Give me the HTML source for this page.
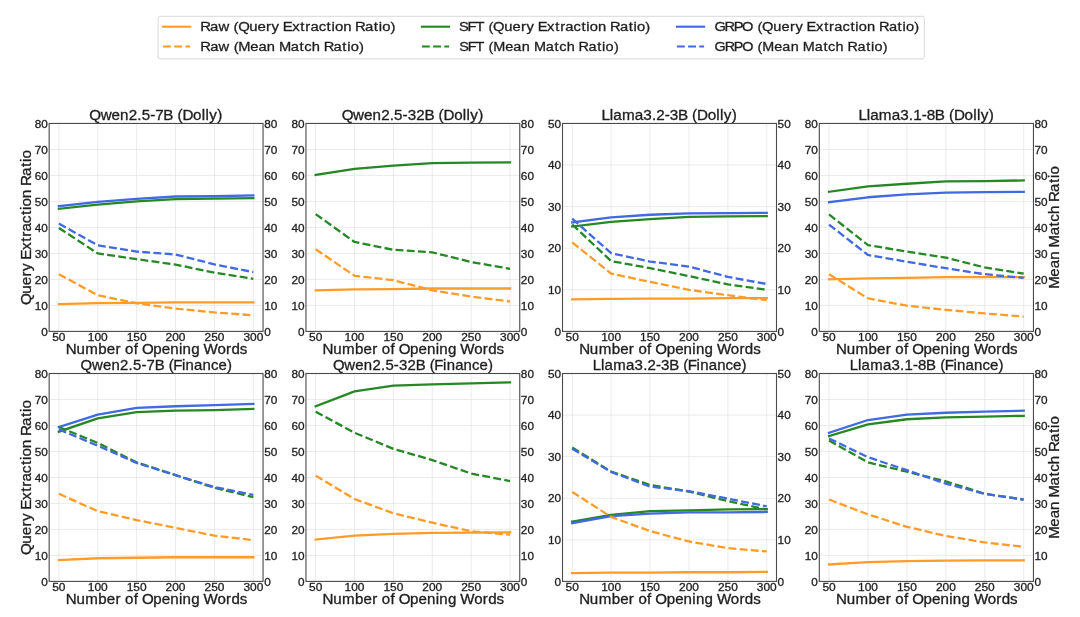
<!DOCTYPE html>
<html><head><meta charset="utf-8"><title>chart</title>
<style>html,body{margin:0;padding:0;background:#fff;}svg{display:block;will-change:transform;}text{font-family:"Liberation Sans",sans-serif;fill:#1e1e1e;stroke:#1e1e1e;stroke-width:0.3px;}</style></head><body>
<svg width="1080" height="617" viewBox="0 0 1080 617">
<rect x="0" y="0" width="1080" height="617" fill="#ffffff"/>
<rect x="158.1" y="16.3" width="766.2" height="42.6" rx="2.2" ry="2.2" fill="#fff" stroke="#d4d4d4" stroke-width="0.9"/>
<line x1="163.0" y1="26.7" x2="190.2" y2="26.7" stroke="#FF9C28" stroke-width="2.1" stroke-linecap="square"/>
<line x1="163.0" y1="46.5" x2="190.2" y2="46.5" stroke="#FF9C28" stroke-width="2.1" stroke-dasharray="7.9 3.3"/>
<text transform="translate(200.90 31.30) scale(1.1056 1)" x="-0.68 8.33 15.84 25.69 29.59 33.69 43.76 51.29 58.99 63.92 70.90 74.01 82.52 89.95 94.43 99.10 106.49 113.67 118.09 121.20 128.72 136.34 139.45 148.46 156.40 160.82 163.93 171.48" y="0" font-size="13.5">Raw (Query Extraction Ratio)</text>
<text transform="translate(200.90 51.30) scale(1.0891 1)" x="-0.62 8.52 16.17 26.12 30.09 34.39 45.32 52.85 60.49 68.20 71.69 82.60 90.64 94.91 101.78 109.49 112.70 121.84 129.87 134.35 137.55 145.20" y="0" font-size="13.5">Raw (Mean Match Ratio)</text>
<line x1="421.9" y1="26.7" x2="449.1" y2="26.7" stroke="#258825" stroke-width="2.1" stroke-linecap="square"/>
<line x1="421.9" y1="46.5" x2="449.1" y2="46.5" stroke="#258825" stroke-width="2.1" stroke-dasharray="7.9 3.3"/>
<text transform="translate(459.80 31.30) scale(1.0923 1)" x="-0.63 7.14 14.39 22.31 26.26 30.45 40.62 48.25 56.02 61.02 68.08 71.25 79.85 87.36 91.89 96.64 104.12 111.37 115.84 119.02 126.63 134.32 137.50 146.61 154.62 159.09 162.27 169.90" y="0" font-size="13.5">SFT (Query Extraction Ratio)</text>
<text transform="translate(459.80 51.30) scale(1.0732 1)" x="-0.55 7.35 14.73 22.75 26.78 31.20 42.26 49.90 57.66 65.45 69.05 80.10 88.22 92.58 99.57 107.36 110.66 119.92 128.05 132.59 135.87 143.61" y="0" font-size="13.5">SFT (Mean Match Ratio)</text>
<line x1="676.9" y1="26.7" x2="704.1" y2="26.7" stroke="#4169E1" stroke-width="2.1" stroke-linecap="square"/>
<line x1="676.9" y1="46.5" x2="704.1" y2="46.5" stroke="#4169E1" stroke-width="2.1" stroke-dasharray="7.9 3.3"/>
<text transform="translate(714.90 31.30) scale(1.0842 1)" x="-0.48 8.93 17.29 25.09 35.27 39.25 43.49 53.72 61.41 69.23 74.27 81.37 84.58 93.24 100.79 105.36 110.15 117.68 124.97 129.47 132.69 140.35 148.08 151.31 160.48 168.54 173.04 176.25 183.92" y="0" font-size="13.5">GRPO (Query Extraction Ratio)</text>
<text transform="translate(714.90 51.30) scale(1.0655 1)" x="-0.40 9.18 17.68 25.64 35.94 40.00 44.47 55.60 63.29 71.10 78.93 82.58 93.69 101.86 106.26 113.30 121.14 124.48 133.79 141.96 146.53 149.85 157.63" y="0" font-size="13.5">GRPO (Mean Match Ratio)</text>
<g>
<path d="M58.87 123.45V331.40M97.76 123.45V331.40M136.65 123.45V331.40M175.55 123.45V331.40M214.44 123.45V331.40M253.33 123.45V331.40M49.15 305.41H263.05M49.15 279.41H263.05M49.15 253.42H263.05M49.15 227.42H263.05M49.15 201.43H263.05M49.15 175.44H263.05M49.15 149.44H263.05" stroke="#dedede" stroke-width="0.6" fill="none"/>
<polyline points="58.87,304.11 97.76,303.07 136.65,302.81 175.55,302.29 214.44,302.29 253.33,302.29" fill="none" stroke="#FF9C28" stroke-width="2.3" stroke-linecap="square" stroke-linejoin="round"/>
<polyline points="58.87,208.84 97.76,204.55 136.65,201.43 175.55,199.09 214.44,198.70 253.33,198.18" fill="none" stroke="#258825" stroke-width="2.3" stroke-linecap="square" stroke-linejoin="round"/>
<polyline points="58.87,206.11 97.76,201.95 136.65,198.83 175.55,196.49 214.44,196.23 253.33,195.45" fill="none" stroke="#4169E1" stroke-width="2.3" stroke-linecap="square" stroke-linejoin="round"/>
<polyline points="58.87,274.21 97.76,295.27 136.65,303.33 175.55,308.53 214.44,312.42 253.33,315.28" fill="none" stroke="#FF9C28" stroke-width="2.3" stroke-dasharray="7.9 3.3" stroke-linejoin="round"/>
<polyline points="58.87,227.94 97.76,253.42 136.65,259.14 175.55,264.60 214.44,272.65 253.33,278.89" fill="none" stroke="#258825" stroke-width="2.3" stroke-dasharray="7.9 3.3" stroke-linejoin="round"/>
<polyline points="58.87,223.53 97.76,245.36 136.65,251.60 175.55,254.46 214.44,264.34 253.33,272.13" fill="none" stroke="#4169E1" stroke-width="2.3" stroke-dasharray="7.9 3.3" stroke-linejoin="round"/>
<rect x="49.15" y="123.45" width="213.90" height="207.95" fill="none" stroke="#4a4a4a" stroke-width="1.1"/>
<text transform="translate(47.75 335.65) scale(1.0451 1)" x="-6.28" y="0" font-size="11.3">0</text>
<text transform="translate(264.15 335.65) scale(1.0451 1)" x="-0.00" y="0" font-size="11.3">0</text>
<text transform="translate(47.75 309.66) scale(1.0451 1)" x="-12.57 -6.28" y="0" font-size="11.3">10</text>
<text transform="translate(264.15 309.66) scale(1.0451 1)" x="-0.00 6.28" y="0" font-size="11.3">10</text>
<text transform="translate(47.75 283.66) scale(1.0451 1)" x="-12.57 -6.28" y="0" font-size="11.3">20</text>
<text transform="translate(264.15 283.66) scale(1.0451 1)" x="-0.00 6.28" y="0" font-size="11.3">20</text>
<text transform="translate(47.75 257.67) scale(1.0451 1)" x="-12.57 -6.28" y="0" font-size="11.3">30</text>
<text transform="translate(264.15 257.67) scale(1.0451 1)" x="-0.00 6.28" y="0" font-size="11.3">30</text>
<text transform="translate(47.75 231.67) scale(1.0451 1)" x="-12.57 -6.28" y="0" font-size="11.3">40</text>
<text transform="translate(264.15 231.67) scale(1.0451 1)" x="-0.00 6.28" y="0" font-size="11.3">40</text>
<text transform="translate(47.75 205.68) scale(1.0451 1)" x="-12.57 -6.28" y="0" font-size="11.3">50</text>
<text transform="translate(264.15 205.68) scale(1.0451 1)" x="-0.00 6.28" y="0" font-size="11.3">50</text>
<text transform="translate(47.75 179.69) scale(1.0451 1)" x="-12.57 -6.28" y="0" font-size="11.3">60</text>
<text transform="translate(264.15 179.69) scale(1.0451 1)" x="-0.00 6.28" y="0" font-size="11.3">60</text>
<text transform="translate(47.75 153.69) scale(1.0451 1)" x="-12.57 -6.28" y="0" font-size="11.3">70</text>
<text transform="translate(264.15 153.69) scale(1.0451 1)" x="-0.00 6.28" y="0" font-size="11.3">70</text>
<text transform="translate(47.75 127.70) scale(1.0451 1)" x="-12.57 -6.28" y="0" font-size="11.3">80</text>
<text transform="translate(264.15 127.70) scale(1.0451 1)" x="-0.00 6.28" y="0" font-size="11.3">80</text>
<text transform="translate(58.87 340.70) scale(1.0563 1)" x="-6.28 0.00" y="0" font-size="11.3">50</text>
<text transform="translate(97.76 340.70) scale(1.0563 1)" x="-9.43 -3.14 3.14" y="0" font-size="11.3">100</text>
<text transform="translate(136.65 340.70) scale(1.0563 1)" x="-9.43 -3.14 3.14" y="0" font-size="11.3">150</text>
<text transform="translate(175.55 340.70) scale(1.0563 1)" x="-9.43 -3.14 3.14" y="0" font-size="11.3">200</text>
<text transform="translate(214.44 340.70) scale(1.0563 1)" x="-9.43 -3.14 3.14" y="0" font-size="11.3">250</text>
<text transform="translate(253.33 340.70) scale(1.0563 1)" x="-9.43 -3.14 3.14" y="0" font-size="11.3">300</text>
<text transform="translate(156.10 354.30) scale(1.0957 1)" x="-82.42 -72.71 -64.65 -52.77 -45.03 -37.13 -32.23 -28.39 -20.49 -16.34 -12.94 -2.60 5.14 12.88 20.84 24.18 32.04 39.87 43.37 55.96 63.84 68.78 76.33" y="0" font-size="13.8">Number of Opening Words</text>
<text transform="translate(156.10 120.35) scale(1.1002 1)" x="-60.71 -50.42 -40.43 -32.72 -24.89 -17.08 -13.11 -5.42 -0.80 6.59 15.47 19.46 23.94 33.61 41.41 44.84 48.29 55.50" y="0" font-size="13.8">Qwen2.5-7B (Dolly)</text>
<text transform="translate(31.20 227.42) rotate(-90) scale(1.1100 1)" x="-69.96 -59.74 -52.10 -44.28 -39.30 -32.20 -29.08 -20.44 -12.89 -8.36 -3.63 3.86 11.16 15.64 18.78 26.40 34.14 37.27 46.41 54.48 58.96 62.10" y="0" font-size="13.8">Query Extraction Ratio</text>
</g>
<g>
<path d="M315.67 123.45V331.40M354.54 123.45V331.40M393.41 123.45V331.40M432.29 123.45V331.40M471.16 123.45V331.40M510.03 123.45V331.40M305.95 305.41H519.75M305.95 279.41H519.75M305.95 253.42H519.75M305.95 227.42H519.75M305.95 201.43H519.75M305.95 175.44H519.75M305.95 149.44H519.75" stroke="#dedede" stroke-width="0.6" fill="none"/>
<polyline points="315.67,290.33 354.54,289.29 393.41,289.03 432.29,288.51 471.16,288.51 510.03,288.51" fill="none" stroke="#FF9C28" stroke-width="2.3" stroke-linecap="square" stroke-linejoin="round"/>
<polyline points="315.67,174.92 354.54,168.94 393.41,165.56 432.29,163.22 471.16,162.70 510.03,162.44" fill="none" stroke="#258825" stroke-width="2.3" stroke-linecap="square" stroke-linejoin="round"/>
<polyline points="315.67,249.26 354.54,275.77 393.41,280.19 432.29,290.33 471.16,296.57 510.03,301.51" fill="none" stroke="#FF9C28" stroke-width="2.3" stroke-dasharray="7.9 3.3" stroke-linejoin="round"/>
<polyline points="315.67,214.17 354.54,241.98 393.41,249.78 432.29,252.38 471.16,262.00 510.03,268.76" fill="none" stroke="#258825" stroke-width="2.3" stroke-dasharray="7.9 3.3" stroke-linejoin="round"/>
<rect x="305.95" y="123.45" width="213.80" height="207.95" fill="none" stroke="#4a4a4a" stroke-width="1.1"/>
<text transform="translate(304.55 335.65) scale(1.0451 1)" x="-6.28" y="0" font-size="11.3">0</text>
<text transform="translate(520.85 335.65) scale(1.0451 1)" x="-0.00" y="0" font-size="11.3">0</text>
<text transform="translate(304.55 309.66) scale(1.0451 1)" x="-12.57 -6.28" y="0" font-size="11.3">10</text>
<text transform="translate(520.85 309.66) scale(1.0451 1)" x="-0.00 6.28" y="0" font-size="11.3">10</text>
<text transform="translate(304.55 283.66) scale(1.0451 1)" x="-12.57 -6.28" y="0" font-size="11.3">20</text>
<text transform="translate(520.85 283.66) scale(1.0451 1)" x="-0.00 6.28" y="0" font-size="11.3">20</text>
<text transform="translate(304.55 257.67) scale(1.0451 1)" x="-12.57 -6.28" y="0" font-size="11.3">30</text>
<text transform="translate(520.85 257.67) scale(1.0451 1)" x="-0.00 6.28" y="0" font-size="11.3">30</text>
<text transform="translate(304.55 231.67) scale(1.0451 1)" x="-12.57 -6.28" y="0" font-size="11.3">40</text>
<text transform="translate(520.85 231.67) scale(1.0451 1)" x="-0.00 6.28" y="0" font-size="11.3">40</text>
<text transform="translate(304.55 205.68) scale(1.0451 1)" x="-12.57 -6.28" y="0" font-size="11.3">50</text>
<text transform="translate(520.85 205.68) scale(1.0451 1)" x="-0.00 6.28" y="0" font-size="11.3">50</text>
<text transform="translate(304.55 179.69) scale(1.0451 1)" x="-12.57 -6.28" y="0" font-size="11.3">60</text>
<text transform="translate(520.85 179.69) scale(1.0451 1)" x="-0.00 6.28" y="0" font-size="11.3">60</text>
<text transform="translate(304.55 153.69) scale(1.0451 1)" x="-12.57 -6.28" y="0" font-size="11.3">70</text>
<text transform="translate(520.85 153.69) scale(1.0451 1)" x="-0.00 6.28" y="0" font-size="11.3">70</text>
<text transform="translate(304.55 127.70) scale(1.0451 1)" x="-12.57 -6.28" y="0" font-size="11.3">80</text>
<text transform="translate(520.85 127.70) scale(1.0451 1)" x="-0.00 6.28" y="0" font-size="11.3">80</text>
<text transform="translate(315.67 340.70) scale(1.0563 1)" x="-6.28 0.00" y="0" font-size="11.3">50</text>
<text transform="translate(354.54 340.70) scale(1.0563 1)" x="-9.43 -3.14 3.14" y="0" font-size="11.3">100</text>
<text transform="translate(393.41 340.70) scale(1.0563 1)" x="-9.43 -3.14 3.14" y="0" font-size="11.3">150</text>
<text transform="translate(432.29 340.70) scale(1.0563 1)" x="-9.43 -3.14 3.14" y="0" font-size="11.3">200</text>
<text transform="translate(471.16 340.70) scale(1.0563 1)" x="-9.43 -3.14 3.14" y="0" font-size="11.3">250</text>
<text transform="translate(510.03 340.70) scale(1.0563 1)" x="-9.43 -3.14 3.14" y="0" font-size="11.3">300</text>
<text transform="translate(412.85 354.30) scale(1.0957 1)" x="-82.42 -72.71 -64.65 -52.77 -45.03 -37.13 -32.23 -28.39 -20.49 -16.34 -12.94 -2.60 5.14 12.88 20.84 24.18 32.04 39.87 43.37 55.96 63.84 68.78 76.33" y="0" font-size="13.8">Number of Opening Words</text>
<text transform="translate(412.85 120.35) scale(1.1017 1)" x="-64.56 -54.28 -44.30 -36.61 -28.78 -20.98 -17.02 -9.33 -4.73 3.11 10.50 19.37 23.35 27.82 37.48 45.27 48.69 52.13 59.34" y="0" font-size="13.8">Qwen2.5-32B (Dolly)</text>
</g>
<g>
<path d="M572.23 123.45V331.40M611.14 123.45V331.40M650.05 123.45V331.40M688.95 123.45V331.40M727.86 123.45V331.40M766.77 123.45V331.40M562.50 289.81H776.50M562.50 248.22H776.50M562.50 206.63H776.50M562.50 165.04H776.50" stroke="#dedede" stroke-width="0.6" fill="none"/>
<polyline points="572.23,299.38 611.14,298.96 650.05,298.54 688.95,298.54 727.86,298.13 766.77,298.13" fill="none" stroke="#FF9C28" stroke-width="2.3" stroke-linecap="square" stroke-linejoin="round"/>
<polyline points="572.23,226.59 611.14,221.81 650.05,219.11 688.95,216.82 727.86,216.40 766.77,216.20" fill="none" stroke="#258825" stroke-width="2.3" stroke-linecap="square" stroke-linejoin="round"/>
<polyline points="572.23,222.43 611.14,217.44 650.05,214.74 688.95,213.28 727.86,213.08 766.77,212.87" fill="none" stroke="#4169E1" stroke-width="2.3" stroke-linecap="square" stroke-linejoin="round"/>
<polyline points="572.23,242.40 611.14,273.59 650.05,281.91 688.95,289.81 727.86,295.22 766.77,300.21" fill="none" stroke="#FF9C28" stroke-width="2.3" stroke-dasharray="7.9 3.3" stroke-linejoin="round"/>
<polyline points="572.23,224.51 611.14,261.11 650.05,268.18 688.95,276.09 727.86,284.40 766.77,289.81" fill="none" stroke="#258825" stroke-width="2.3" stroke-dasharray="7.9 3.3" stroke-linejoin="round"/>
<polyline points="572.23,218.69 611.14,253.21 650.05,261.53 688.95,266.52 727.86,276.92 766.77,283.99" fill="none" stroke="#4169E1" stroke-width="2.3" stroke-dasharray="7.9 3.3" stroke-linejoin="round"/>
<rect x="562.50" y="123.45" width="214.00" height="207.95" fill="none" stroke="#4a4a4a" stroke-width="1.1"/>
<text transform="translate(561.10 335.65) scale(1.0451 1)" x="-6.28" y="0" font-size="11.3">0</text>
<text transform="translate(777.60 335.65) scale(1.0451 1)" x="-0.00" y="0" font-size="11.3">0</text>
<text transform="translate(561.10 294.06) scale(1.0451 1)" x="-12.57 -6.28" y="0" font-size="11.3">10</text>
<text transform="translate(777.60 294.06) scale(1.0451 1)" x="-0.00 6.28" y="0" font-size="11.3">10</text>
<text transform="translate(561.10 252.47) scale(1.0451 1)" x="-12.57 -6.28" y="0" font-size="11.3">20</text>
<text transform="translate(777.60 252.47) scale(1.0451 1)" x="-0.00 6.28" y="0" font-size="11.3">20</text>
<text transform="translate(561.10 210.88) scale(1.0451 1)" x="-12.57 -6.28" y="0" font-size="11.3">30</text>
<text transform="translate(777.60 210.88) scale(1.0451 1)" x="-0.00 6.28" y="0" font-size="11.3">30</text>
<text transform="translate(561.10 169.29) scale(1.0451 1)" x="-12.57 -6.28" y="0" font-size="11.3">40</text>
<text transform="translate(777.60 169.29) scale(1.0451 1)" x="-0.00 6.28" y="0" font-size="11.3">40</text>
<text transform="translate(561.10 127.70) scale(1.0451 1)" x="-12.57 -6.28" y="0" font-size="11.3">50</text>
<text transform="translate(777.60 127.70) scale(1.0451 1)" x="-0.00 6.28" y="0" font-size="11.3">50</text>
<text transform="translate(572.23 340.70) scale(1.0563 1)" x="-6.28 0.00" y="0" font-size="11.3">50</text>
<text transform="translate(611.14 340.70) scale(1.0563 1)" x="-9.43 -3.14 3.14" y="0" font-size="11.3">100</text>
<text transform="translate(650.05 340.70) scale(1.0563 1)" x="-9.43 -3.14 3.14" y="0" font-size="11.3">150</text>
<text transform="translate(688.95 340.70) scale(1.0563 1)" x="-9.43 -3.14 3.14" y="0" font-size="11.3">200</text>
<text transform="translate(727.86 340.70) scale(1.0563 1)" x="-9.43 -3.14 3.14" y="0" font-size="11.3">250</text>
<text transform="translate(766.77 340.70) scale(1.0563 1)" x="-9.43 -3.14 3.14" y="0" font-size="11.3">300</text>
<text transform="translate(669.50 354.30) scale(1.0957 1)" x="-82.42 -72.71 -64.65 -52.77 -45.03 -37.13 -32.23 -28.39 -20.49 -16.34 -12.94 -2.60 5.14 12.88 20.84 24.18 32.04 39.87 43.37 55.96 63.84 68.78 76.33" y="0" font-size="13.8">Number of Opening Words</text>
<text transform="translate(669.50 120.35) scale(1.1065 1)" x="-61.39 -53.96 -50.80 -42.97 -31.32 -23.66 -15.88 -11.95 -4.29 0.29 7.64 16.48 20.45 24.88 34.51 42.27 45.68 49.10 56.28" y="0" font-size="13.8">Llama3.2-3B (Dolly)</text>
</g>
<g>
<path d="M829.03 123.45V331.40M867.97 123.45V331.40M906.91 123.45V331.40M945.84 123.45V331.40M984.78 123.45V331.40M1023.72 123.45V331.40M819.30 305.41H1033.45M819.30 279.41H1033.45M819.30 253.42H1033.45M819.30 227.42H1033.45M819.30 201.43H1033.45M819.30 175.44H1033.45M819.30 149.44H1033.45" stroke="#dedede" stroke-width="0.6" fill="none"/>
<polyline points="829.03,279.41 867.97,278.37 906.91,277.85 945.84,277.07 984.78,277.07 1023.72,277.07" fill="none" stroke="#FF9C28" stroke-width="2.3" stroke-linecap="square" stroke-linejoin="round"/>
<polyline points="829.03,191.81 867.97,186.35 906.91,183.76 945.84,181.42 984.78,181.16 1023.72,180.38" fill="none" stroke="#258825" stroke-width="2.3" stroke-linecap="square" stroke-linejoin="round"/>
<polyline points="829.03,202.21 867.97,197.27 906.91,194.41 945.84,192.59 984.78,192.07 1023.72,191.81" fill="none" stroke="#4169E1" stroke-width="2.3" stroke-linecap="square" stroke-linejoin="round"/>
<polyline points="829.03,274.21 867.97,298.39 906.91,305.67 945.84,309.83 984.78,313.46 1023.72,316.58" fill="none" stroke="#FF9C28" stroke-width="2.3" stroke-dasharray="7.9 3.3" stroke-linejoin="round"/>
<polyline points="829.03,214.43 867.97,245.10 906.91,251.60 945.84,257.58 984.78,267.46 1023.72,273.69" fill="none" stroke="#258825" stroke-width="2.3" stroke-dasharray="7.9 3.3" stroke-linejoin="round"/>
<polyline points="829.03,224.57 867.97,254.98 906.91,261.74 945.84,268.24 984.78,274.21 1023.72,277.85" fill="none" stroke="#4169E1" stroke-width="2.3" stroke-dasharray="7.9 3.3" stroke-linejoin="round"/>
<rect x="819.30" y="123.45" width="214.15" height="207.95" fill="none" stroke="#4a4a4a" stroke-width="1.1"/>
<text transform="translate(817.90 335.65) scale(1.0451 1)" x="-6.28" y="0" font-size="11.3">0</text>
<text transform="translate(1034.55 335.65) scale(1.0451 1)" x="-0.00" y="0" font-size="11.3">0</text>
<text transform="translate(817.90 309.66) scale(1.0451 1)" x="-12.57 -6.28" y="0" font-size="11.3">10</text>
<text transform="translate(1034.55 309.66) scale(1.0451 1)" x="-0.00 6.28" y="0" font-size="11.3">10</text>
<text transform="translate(817.90 283.66) scale(1.0451 1)" x="-12.57 -6.28" y="0" font-size="11.3">20</text>
<text transform="translate(1034.55 283.66) scale(1.0451 1)" x="-0.00 6.28" y="0" font-size="11.3">20</text>
<text transform="translate(817.90 257.67) scale(1.0451 1)" x="-12.57 -6.28" y="0" font-size="11.3">30</text>
<text transform="translate(1034.55 257.67) scale(1.0451 1)" x="-0.00 6.28" y="0" font-size="11.3">30</text>
<text transform="translate(817.90 231.67) scale(1.0451 1)" x="-12.57 -6.28" y="0" font-size="11.3">40</text>
<text transform="translate(1034.55 231.67) scale(1.0451 1)" x="-0.00 6.28" y="0" font-size="11.3">40</text>
<text transform="translate(817.90 205.68) scale(1.0451 1)" x="-12.57 -6.28" y="0" font-size="11.3">50</text>
<text transform="translate(1034.55 205.68) scale(1.0451 1)" x="-0.00 6.28" y="0" font-size="11.3">50</text>
<text transform="translate(817.90 179.69) scale(1.0451 1)" x="-12.57 -6.28" y="0" font-size="11.3">60</text>
<text transform="translate(1034.55 179.69) scale(1.0451 1)" x="-0.00 6.28" y="0" font-size="11.3">60</text>
<text transform="translate(817.90 153.69) scale(1.0451 1)" x="-12.57 -6.28" y="0" font-size="11.3">70</text>
<text transform="translate(1034.55 153.69) scale(1.0451 1)" x="-0.00 6.28" y="0" font-size="11.3">70</text>
<text transform="translate(817.90 127.70) scale(1.0451 1)" x="-12.57 -6.28" y="0" font-size="11.3">80</text>
<text transform="translate(1034.55 127.70) scale(1.0451 1)" x="-0.00 6.28" y="0" font-size="11.3">80</text>
<text transform="translate(829.03 340.70) scale(1.0563 1)" x="-6.28 0.00" y="0" font-size="11.3">50</text>
<text transform="translate(867.97 340.70) scale(1.0563 1)" x="-9.43 -3.14 3.14" y="0" font-size="11.3">100</text>
<text transform="translate(906.91 340.70) scale(1.0563 1)" x="-9.43 -3.14 3.14" y="0" font-size="11.3">150</text>
<text transform="translate(945.84 340.70) scale(1.0563 1)" x="-9.43 -3.14 3.14" y="0" font-size="11.3">200</text>
<text transform="translate(984.78 340.70) scale(1.0563 1)" x="-9.43 -3.14 3.14" y="0" font-size="11.3">250</text>
<text transform="translate(1023.72 340.70) scale(1.0563 1)" x="-9.43 -3.14 3.14" y="0" font-size="11.3">300</text>
<text transform="translate(926.38 354.30) scale(1.0957 1)" x="-82.42 -72.71 -64.65 -52.77 -45.03 -37.13 -32.23 -28.39 -20.49 -16.34 -12.94 -2.60 5.14 12.88 20.84 24.18 32.04 39.87 43.37 55.96 63.84 68.78 76.33" y="0" font-size="13.8">Number of Opening Words</text>
<text transform="translate(926.38 120.35) scale(1.1065 1)" x="-61.39 -53.96 -50.80 -42.97 -31.32 -23.66 -15.88 -11.95 -4.29 0.29 7.64 16.48 20.45 24.88 34.51 42.27 45.68 49.10 56.28" y="0" font-size="13.8">Llama3.1-8B (Dolly)</text>
<text transform="translate(1059.30 227.42) rotate(-90) scale(1.0889 1)" x="-56.36 -45.23 -37.57 -29.80 -21.95 -18.41 -7.30 0.88 5.22 12.22 20.07 23.32 32.62 40.81 45.37 48.61" y="0" font-size="13.8">Mean Match Ratio</text>
</g>
<g>
<path d="M58.87 373.50V581.40M97.76 373.50V581.40M136.65 373.50V581.40M175.55 373.50V581.40M214.44 373.50V581.40M253.33 373.50V581.40M49.15 555.41H263.05M49.15 529.42H263.05M49.15 503.44H263.05M49.15 477.45H263.05M49.15 451.46H263.05M49.15 425.48H263.05M49.15 399.49H263.05" stroke="#dedede" stroke-width="0.6" fill="none"/>
<polyline points="58.87,560.09 97.76,558.27 136.65,557.75 175.55,557.23 214.44,557.23 253.33,557.23" fill="none" stroke="#FF9C28" stroke-width="2.3" stroke-linecap="square" stroke-linejoin="round"/>
<polyline points="58.87,431.71 97.76,418.46 136.65,412.22 175.55,410.66 214.44,410.14 253.33,408.84" fill="none" stroke="#258825" stroke-width="2.3" stroke-linecap="square" stroke-linejoin="round"/>
<polyline points="58.87,427.03 97.76,414.56 136.65,407.80 175.55,406.24 214.44,405.20 253.33,403.91" fill="none" stroke="#4169E1" stroke-width="2.3" stroke-linecap="square" stroke-linejoin="round"/>
<polyline points="58.87,493.82 97.76,511.23 136.65,520.07 175.55,527.87 214.44,535.66 253.33,540.08" fill="none" stroke="#FF9C28" stroke-width="2.3" stroke-dasharray="7.9 3.3" stroke-linejoin="round"/>
<polyline points="58.87,427.03 97.76,442.89 136.65,462.38 175.55,475.11 214.44,487.84 253.33,497.20" fill="none" stroke="#258825" stroke-width="2.3" stroke-dasharray="7.9 3.3" stroke-linejoin="round"/>
<polyline points="58.87,429.37 97.76,445.75 136.65,462.90 175.55,475.11 214.44,487.07 253.33,494.86" fill="none" stroke="#4169E1" stroke-width="2.3" stroke-dasharray="7.9 3.3" stroke-linejoin="round"/>
<rect x="49.15" y="373.50" width="213.90" height="207.90" fill="none" stroke="#4a4a4a" stroke-width="1.1"/>
<text transform="translate(47.75 585.65) scale(1.0451 1)" x="-6.28" y="0" font-size="11.3">0</text>
<text transform="translate(264.15 585.65) scale(1.0451 1)" x="-0.00" y="0" font-size="11.3">0</text>
<text transform="translate(47.75 559.66) scale(1.0451 1)" x="-12.57 -6.28" y="0" font-size="11.3">10</text>
<text transform="translate(264.15 559.66) scale(1.0451 1)" x="-0.00 6.28" y="0" font-size="11.3">10</text>
<text transform="translate(47.75 533.67) scale(1.0451 1)" x="-12.57 -6.28" y="0" font-size="11.3">20</text>
<text transform="translate(264.15 533.67) scale(1.0451 1)" x="-0.00 6.28" y="0" font-size="11.3">20</text>
<text transform="translate(47.75 507.69) scale(1.0451 1)" x="-12.57 -6.28" y="0" font-size="11.3">30</text>
<text transform="translate(264.15 507.69) scale(1.0451 1)" x="-0.00 6.28" y="0" font-size="11.3">30</text>
<text transform="translate(47.75 481.70) scale(1.0451 1)" x="-12.57 -6.28" y="0" font-size="11.3">40</text>
<text transform="translate(264.15 481.70) scale(1.0451 1)" x="-0.00 6.28" y="0" font-size="11.3">40</text>
<text transform="translate(47.75 455.71) scale(1.0451 1)" x="-12.57 -6.28" y="0" font-size="11.3">50</text>
<text transform="translate(264.15 455.71) scale(1.0451 1)" x="-0.00 6.28" y="0" font-size="11.3">50</text>
<text transform="translate(47.75 429.73) scale(1.0451 1)" x="-12.57 -6.28" y="0" font-size="11.3">60</text>
<text transform="translate(264.15 429.73) scale(1.0451 1)" x="-0.00 6.28" y="0" font-size="11.3">60</text>
<text transform="translate(47.75 403.74) scale(1.0451 1)" x="-12.57 -6.28" y="0" font-size="11.3">70</text>
<text transform="translate(264.15 403.74) scale(1.0451 1)" x="-0.00 6.28" y="0" font-size="11.3">70</text>
<text transform="translate(47.75 377.75) scale(1.0451 1)" x="-12.57 -6.28" y="0" font-size="11.3">80</text>
<text transform="translate(264.15 377.75) scale(1.0451 1)" x="-0.00 6.28" y="0" font-size="11.3">80</text>
<text transform="translate(58.87 590.70) scale(1.0563 1)" x="-6.28 0.00" y="0" font-size="11.3">50</text>
<text transform="translate(97.76 590.70) scale(1.0563 1)" x="-9.43 -3.14 3.14" y="0" font-size="11.3">100</text>
<text transform="translate(136.65 590.70) scale(1.0563 1)" x="-9.43 -3.14 3.14" y="0" font-size="11.3">150</text>
<text transform="translate(175.55 590.70) scale(1.0563 1)" x="-9.43 -3.14 3.14" y="0" font-size="11.3">200</text>
<text transform="translate(214.44 590.70) scale(1.0563 1)" x="-9.43 -3.14 3.14" y="0" font-size="11.3">250</text>
<text transform="translate(253.33 590.70) scale(1.0563 1)" x="-9.43 -3.14 3.14" y="0" font-size="11.3">300</text>
<text transform="translate(156.10 604.30) scale(1.0957 1)" x="-82.42 -72.71 -64.65 -52.77 -45.03 -37.13 -32.23 -28.39 -20.49 -16.34 -12.94 -2.60 5.14 12.88 20.84 24.18 32.04 39.87 43.37 55.96 63.84 68.78 76.33" y="0" font-size="13.8">Number of Opening Words</text>
<text transform="translate(156.10 370.40) scale(1.0810 1)" x="-69.84 -59.37 -49.23 -41.38 -33.40 -25.49 -21.42 -13.62 -8.89 -1.35 7.64 11.71 15.85 23.89 27.31 35.14 42.97 50.80 57.73 65.58" y="0" font-size="13.8">Qwen2.5-7B (Finance)</text>
<text transform="translate(31.20 477.45) rotate(-90) scale(1.1100 1)" x="-69.96 -59.74 -52.10 -44.28 -39.30 -32.20 -29.08 -20.44 -12.89 -8.36 -3.63 3.86 11.16 15.64 18.78 26.40 34.14 37.27 46.41 54.48 58.96 62.10" y="0" font-size="13.8">Query Extraction Ratio</text>
</g>
<g>
<path d="M315.67 373.50V581.40M354.54 373.50V581.40M393.41 373.50V581.40M432.29 373.50V581.40M471.16 373.50V581.40M510.03 373.50V581.40M305.95 555.41H519.75M305.95 529.42H519.75M305.95 503.44H519.75M305.95 477.45H519.75M305.95 451.46H519.75M305.95 425.48H519.75M305.95 399.49H519.75" stroke="#dedede" stroke-width="0.6" fill="none"/>
<polyline points="315.67,539.56 354.54,535.66 393.41,533.84 432.29,532.80 471.16,532.54 510.03,532.28" fill="none" stroke="#FF9C28" stroke-width="2.3" stroke-linecap="square" stroke-linejoin="round"/>
<polyline points="315.67,406.24 354.54,391.43 393.41,385.71 432.29,384.41 471.16,383.38 510.03,382.34" fill="none" stroke="#258825" stroke-width="2.3" stroke-linecap="square" stroke-linejoin="round"/>
<polyline points="315.67,475.63 354.54,499.02 393.41,513.31 432.29,522.67 471.16,531.24 510.03,534.62" fill="none" stroke="#FF9C28" stroke-width="2.3" stroke-dasharray="7.9 3.3" stroke-linejoin="round"/>
<polyline points="315.67,411.70 354.54,432.75 393.41,448.86 432.29,460.04 471.16,473.55 510.03,481.09" fill="none" stroke="#258825" stroke-width="2.3" stroke-dasharray="7.9 3.3" stroke-linejoin="round"/>
<rect x="305.95" y="373.50" width="213.80" height="207.90" fill="none" stroke="#4a4a4a" stroke-width="1.1"/>
<text transform="translate(304.55 585.65) scale(1.0451 1)" x="-6.28" y="0" font-size="11.3">0</text>
<text transform="translate(520.85 585.65) scale(1.0451 1)" x="-0.00" y="0" font-size="11.3">0</text>
<text transform="translate(304.55 559.66) scale(1.0451 1)" x="-12.57 -6.28" y="0" font-size="11.3">10</text>
<text transform="translate(520.85 559.66) scale(1.0451 1)" x="-0.00 6.28" y="0" font-size="11.3">10</text>
<text transform="translate(304.55 533.67) scale(1.0451 1)" x="-12.57 -6.28" y="0" font-size="11.3">20</text>
<text transform="translate(520.85 533.67) scale(1.0451 1)" x="-0.00 6.28" y="0" font-size="11.3">20</text>
<text transform="translate(304.55 507.69) scale(1.0451 1)" x="-12.57 -6.28" y="0" font-size="11.3">30</text>
<text transform="translate(520.85 507.69) scale(1.0451 1)" x="-0.00 6.28" y="0" font-size="11.3">30</text>
<text transform="translate(304.55 481.70) scale(1.0451 1)" x="-12.57 -6.28" y="0" font-size="11.3">40</text>
<text transform="translate(520.85 481.70) scale(1.0451 1)" x="-0.00 6.28" y="0" font-size="11.3">40</text>
<text transform="translate(304.55 455.71) scale(1.0451 1)" x="-12.57 -6.28" y="0" font-size="11.3">50</text>
<text transform="translate(520.85 455.71) scale(1.0451 1)" x="-0.00 6.28" y="0" font-size="11.3">50</text>
<text transform="translate(304.55 429.73) scale(1.0451 1)" x="-12.57 -6.28" y="0" font-size="11.3">60</text>
<text transform="translate(520.85 429.73) scale(1.0451 1)" x="-0.00 6.28" y="0" font-size="11.3">60</text>
<text transform="translate(304.55 403.74) scale(1.0451 1)" x="-12.57 -6.28" y="0" font-size="11.3">70</text>
<text transform="translate(520.85 403.74) scale(1.0451 1)" x="-0.00 6.28" y="0" font-size="11.3">70</text>
<text transform="translate(304.55 377.75) scale(1.0451 1)" x="-12.57 -6.28" y="0" font-size="11.3">80</text>
<text transform="translate(520.85 377.75) scale(1.0451 1)" x="-0.00 6.28" y="0" font-size="11.3">80</text>
<text transform="translate(315.67 590.70) scale(1.0563 1)" x="-6.28 0.00" y="0" font-size="11.3">50</text>
<text transform="translate(354.54 590.70) scale(1.0563 1)" x="-9.43 -3.14 3.14" y="0" font-size="11.3">100</text>
<text transform="translate(393.41 590.70) scale(1.0563 1)" x="-9.43 -3.14 3.14" y="0" font-size="11.3">150</text>
<text transform="translate(432.29 590.70) scale(1.0563 1)" x="-9.43 -3.14 3.14" y="0" font-size="11.3">200</text>
<text transform="translate(471.16 590.70) scale(1.0563 1)" x="-9.43 -3.14 3.14" y="0" font-size="11.3">250</text>
<text transform="translate(510.03 590.70) scale(1.0563 1)" x="-9.43 -3.14 3.14" y="0" font-size="11.3">300</text>
<text transform="translate(412.85 604.30) scale(1.0957 1)" x="-82.42 -72.71 -64.65 -52.77 -45.03 -37.13 -32.23 -28.39 -20.49 -16.34 -12.94 -2.60 5.14 12.88 20.84 24.18 32.04 39.87 43.37 55.96 63.84 68.78 76.33" y="0" font-size="13.8">Number of Opening Words</text>
<text transform="translate(412.85 370.40) scale(1.0834 1)" x="-73.69 -63.24 -53.12 -45.29 -37.33 -29.43 -25.37 -17.58 -12.87 -4.89 2.63 11.61 15.66 19.80 27.82 31.23 39.05 46.86 54.67 61.58 69.42" y="0" font-size="13.8">Qwen2.5-32B (Finance)</text>
</g>
<g>
<path d="M572.23 373.50V581.40M611.14 373.50V581.40M650.05 373.50V581.40M688.95 373.50V581.40M727.86 373.50V581.40M766.77 373.50V581.40M562.50 539.82H776.50M562.50 498.24H776.50M562.50 456.66H776.50M562.50 415.08H776.50" stroke="#dedede" stroke-width="0.6" fill="none"/>
<polyline points="572.23,573.08 611.14,572.67 650.05,572.67 688.95,572.25 727.86,572.25 766.77,571.84" fill="none" stroke="#FF9C28" stroke-width="2.3" stroke-linecap="square" stroke-linejoin="round"/>
<polyline points="572.23,521.52 611.14,514.87 650.05,511.13 688.95,510.30 727.86,509.47 766.77,509.05" fill="none" stroke="#258825" stroke-width="2.3" stroke-linecap="square" stroke-linejoin="round"/>
<polyline points="572.23,523.19 611.14,516.12 650.05,513.62 688.95,512.38 727.86,512.38 766.77,511.96" fill="none" stroke="#4169E1" stroke-width="2.3" stroke-linecap="square" stroke-linejoin="round"/>
<polyline points="572.23,492.00 611.14,516.95 650.05,531.09 688.95,541.48 727.86,548.14 766.77,551.46" fill="none" stroke="#FF9C28" stroke-width="2.3" stroke-dasharray="7.9 3.3" stroke-linejoin="round"/>
<polyline points="572.23,447.51 611.14,471.63 650.05,484.93 688.95,491.59 727.86,501.15 766.77,509.47" fill="none" stroke="#258825" stroke-width="2.3" stroke-dasharray="7.9 3.3" stroke-linejoin="round"/>
<polyline points="572.23,448.76 611.14,472.04 650.05,486.60 688.95,491.17 727.86,498.66 766.77,506.35" fill="none" stroke="#4169E1" stroke-width="2.3" stroke-dasharray="7.9 3.3" stroke-linejoin="round"/>
<rect x="562.50" y="373.50" width="214.00" height="207.90" fill="none" stroke="#4a4a4a" stroke-width="1.1"/>
<text transform="translate(561.10 585.65) scale(1.0451 1)" x="-6.28" y="0" font-size="11.3">0</text>
<text transform="translate(777.60 585.65) scale(1.0451 1)" x="-0.00" y="0" font-size="11.3">0</text>
<text transform="translate(561.10 544.07) scale(1.0451 1)" x="-12.57 -6.28" y="0" font-size="11.3">10</text>
<text transform="translate(777.60 544.07) scale(1.0451 1)" x="-0.00 6.28" y="0" font-size="11.3">10</text>
<text transform="translate(561.10 502.49) scale(1.0451 1)" x="-12.57 -6.28" y="0" font-size="11.3">20</text>
<text transform="translate(777.60 502.49) scale(1.0451 1)" x="-0.00 6.28" y="0" font-size="11.3">20</text>
<text transform="translate(561.10 460.91) scale(1.0451 1)" x="-12.57 -6.28" y="0" font-size="11.3">30</text>
<text transform="translate(777.60 460.91) scale(1.0451 1)" x="-0.00 6.28" y="0" font-size="11.3">30</text>
<text transform="translate(561.10 419.33) scale(1.0451 1)" x="-12.57 -6.28" y="0" font-size="11.3">40</text>
<text transform="translate(777.60 419.33) scale(1.0451 1)" x="-0.00 6.28" y="0" font-size="11.3">40</text>
<text transform="translate(561.10 377.75) scale(1.0451 1)" x="-12.57 -6.28" y="0" font-size="11.3">50</text>
<text transform="translate(777.60 377.75) scale(1.0451 1)" x="-0.00 6.28" y="0" font-size="11.3">50</text>
<text transform="translate(572.23 590.70) scale(1.0563 1)" x="-6.28 0.00" y="0" font-size="11.3">50</text>
<text transform="translate(611.14 590.70) scale(1.0563 1)" x="-9.43 -3.14 3.14" y="0" font-size="11.3">100</text>
<text transform="translate(650.05 590.70) scale(1.0563 1)" x="-9.43 -3.14 3.14" y="0" font-size="11.3">150</text>
<text transform="translate(688.95 590.70) scale(1.0563 1)" x="-9.43 -3.14 3.14" y="0" font-size="11.3">200</text>
<text transform="translate(727.86 590.70) scale(1.0563 1)" x="-9.43 -3.14 3.14" y="0" font-size="11.3">250</text>
<text transform="translate(766.77 590.70) scale(1.0563 1)" x="-9.43 -3.14 3.14" y="0" font-size="11.3">300</text>
<text transform="translate(669.50 604.30) scale(1.0957 1)" x="-82.42 -72.71 -64.65 -52.77 -45.03 -37.13 -32.23 -28.39 -20.49 -16.34 -12.94 -2.60 5.14 12.88 20.84 24.18 32.04 39.87 43.37 55.96 63.84 68.78 76.33" y="0" font-size="13.8">Number of Opening Words</text>
<text transform="translate(669.50 370.40) scale(1.0867 1)" x="-70.54 -63.02 -59.76 -51.75 -39.93 -32.12 -24.24 -20.20 -12.43 -7.74 -0.24 8.72 12.76 16.88 24.89 28.28 36.07 43.86 51.64 58.53 66.36" y="0" font-size="13.8">Llama3.2-3B (Finance)</text>
</g>
<g>
<path d="M829.03 373.50V581.40M867.97 373.50V581.40M906.91 373.50V581.40M945.84 373.50V581.40M984.78 373.50V581.40M1023.72 373.50V581.40M819.30 555.41H1033.45M819.30 529.42H1033.45M819.30 503.44H1033.45M819.30 477.45H1033.45M819.30 451.46H1033.45M819.30 425.48H1033.45M819.30 399.49H1033.45" stroke="#dedede" stroke-width="0.6" fill="none"/>
<polyline points="829.03,564.51 867.97,562.17 906.91,561.13 945.84,560.61 984.78,560.35 1023.72,560.35" fill="none" stroke="#FF9C28" stroke-width="2.3" stroke-linecap="square" stroke-linejoin="round"/>
<polyline points="829.03,436.13 867.97,424.44 906.91,419.24 945.84,417.42 984.78,416.64 1023.72,415.86" fill="none" stroke="#258825" stroke-width="2.3" stroke-linecap="square" stroke-linejoin="round"/>
<polyline points="829.03,432.75 867.97,420.02 906.91,414.56 945.84,412.74 984.78,411.70 1023.72,410.66" fill="none" stroke="#4169E1" stroke-width="2.3" stroke-linecap="square" stroke-linejoin="round"/>
<polyline points="829.03,499.54 867.97,514.35 906.91,526.83 945.84,535.92 984.78,542.42 1023.72,546.84" fill="none" stroke="#FF9C28" stroke-width="2.3" stroke-dasharray="7.9 3.3" stroke-linejoin="round"/>
<polyline points="829.03,440.55 867.97,462.38 906.91,471.73 945.84,481.35 984.78,493.82 1023.72,499.54" fill="none" stroke="#258825" stroke-width="2.3" stroke-dasharray="7.9 3.3" stroke-linejoin="round"/>
<polyline points="829.03,438.47 867.97,457.18 906.91,470.17 945.84,483.69 984.78,493.82 1023.72,499.54" fill="none" stroke="#4169E1" stroke-width="2.3" stroke-dasharray="7.9 3.3" stroke-linejoin="round"/>
<rect x="819.30" y="373.50" width="214.15" height="207.90" fill="none" stroke="#4a4a4a" stroke-width="1.1"/>
<text transform="translate(817.90 585.65) scale(1.0451 1)" x="-6.28" y="0" font-size="11.3">0</text>
<text transform="translate(1034.55 585.65) scale(1.0451 1)" x="-0.00" y="0" font-size="11.3">0</text>
<text transform="translate(817.90 559.66) scale(1.0451 1)" x="-12.57 -6.28" y="0" font-size="11.3">10</text>
<text transform="translate(1034.55 559.66) scale(1.0451 1)" x="-0.00 6.28" y="0" font-size="11.3">10</text>
<text transform="translate(817.90 533.67) scale(1.0451 1)" x="-12.57 -6.28" y="0" font-size="11.3">20</text>
<text transform="translate(1034.55 533.67) scale(1.0451 1)" x="-0.00 6.28" y="0" font-size="11.3">20</text>
<text transform="translate(817.90 507.69) scale(1.0451 1)" x="-12.57 -6.28" y="0" font-size="11.3">30</text>
<text transform="translate(1034.55 507.69) scale(1.0451 1)" x="-0.00 6.28" y="0" font-size="11.3">30</text>
<text transform="translate(817.90 481.70) scale(1.0451 1)" x="-12.57 -6.28" y="0" font-size="11.3">40</text>
<text transform="translate(1034.55 481.70) scale(1.0451 1)" x="-0.00 6.28" y="0" font-size="11.3">40</text>
<text transform="translate(817.90 455.71) scale(1.0451 1)" x="-12.57 -6.28" y="0" font-size="11.3">50</text>
<text transform="translate(1034.55 455.71) scale(1.0451 1)" x="-0.00 6.28" y="0" font-size="11.3">50</text>
<text transform="translate(817.90 429.73) scale(1.0451 1)" x="-12.57 -6.28" y="0" font-size="11.3">60</text>
<text transform="translate(1034.55 429.73) scale(1.0451 1)" x="-0.00 6.28" y="0" font-size="11.3">60</text>
<text transform="translate(817.90 403.74) scale(1.0451 1)" x="-12.57 -6.28" y="0" font-size="11.3">70</text>
<text transform="translate(1034.55 403.74) scale(1.0451 1)" x="-0.00 6.28" y="0" font-size="11.3">70</text>
<text transform="translate(817.90 377.75) scale(1.0451 1)" x="-12.57 -6.28" y="0" font-size="11.3">80</text>
<text transform="translate(1034.55 377.75) scale(1.0451 1)" x="-0.00 6.28" y="0" font-size="11.3">80</text>
<text transform="translate(829.03 590.70) scale(1.0563 1)" x="-6.28 0.00" y="0" font-size="11.3">50</text>
<text transform="translate(867.97 590.70) scale(1.0563 1)" x="-9.43 -3.14 3.14" y="0" font-size="11.3">100</text>
<text transform="translate(906.91 590.70) scale(1.0563 1)" x="-9.43 -3.14 3.14" y="0" font-size="11.3">150</text>
<text transform="translate(945.84 590.70) scale(1.0563 1)" x="-9.43 -3.14 3.14" y="0" font-size="11.3">200</text>
<text transform="translate(984.78 590.70) scale(1.0563 1)" x="-9.43 -3.14 3.14" y="0" font-size="11.3">250</text>
<text transform="translate(1023.72 590.70) scale(1.0563 1)" x="-9.43 -3.14 3.14" y="0" font-size="11.3">300</text>
<text transform="translate(926.38 604.30) scale(1.0957 1)" x="-82.42 -72.71 -64.65 -52.77 -45.03 -37.13 -32.23 -28.39 -20.49 -16.34 -12.94 -2.60 5.14 12.88 20.84 24.18 32.04 39.87 43.37 55.96 63.84 68.78 76.33" y="0" font-size="13.8">Number of Opening Words</text>
<text transform="translate(926.38 370.40) scale(1.0867 1)" x="-70.54 -63.02 -59.76 -51.75 -39.93 -32.12 -24.24 -20.20 -12.43 -7.74 -0.24 8.72 12.76 16.88 24.89 28.28 36.07 43.86 51.64 58.53 66.36" y="0" font-size="13.8">Llama3.1-8B (Finance)</text>
<text transform="translate(1059.30 477.45) rotate(-90) scale(1.0889 1)" x="-56.36 -45.23 -37.57 -29.80 -21.95 -18.41 -7.30 0.88 5.22 12.22 20.07 23.32 32.62 40.81 45.37 48.61" y="0" font-size="13.8">Mean Match Ratio</text>
</g>
</svg></body></html>
